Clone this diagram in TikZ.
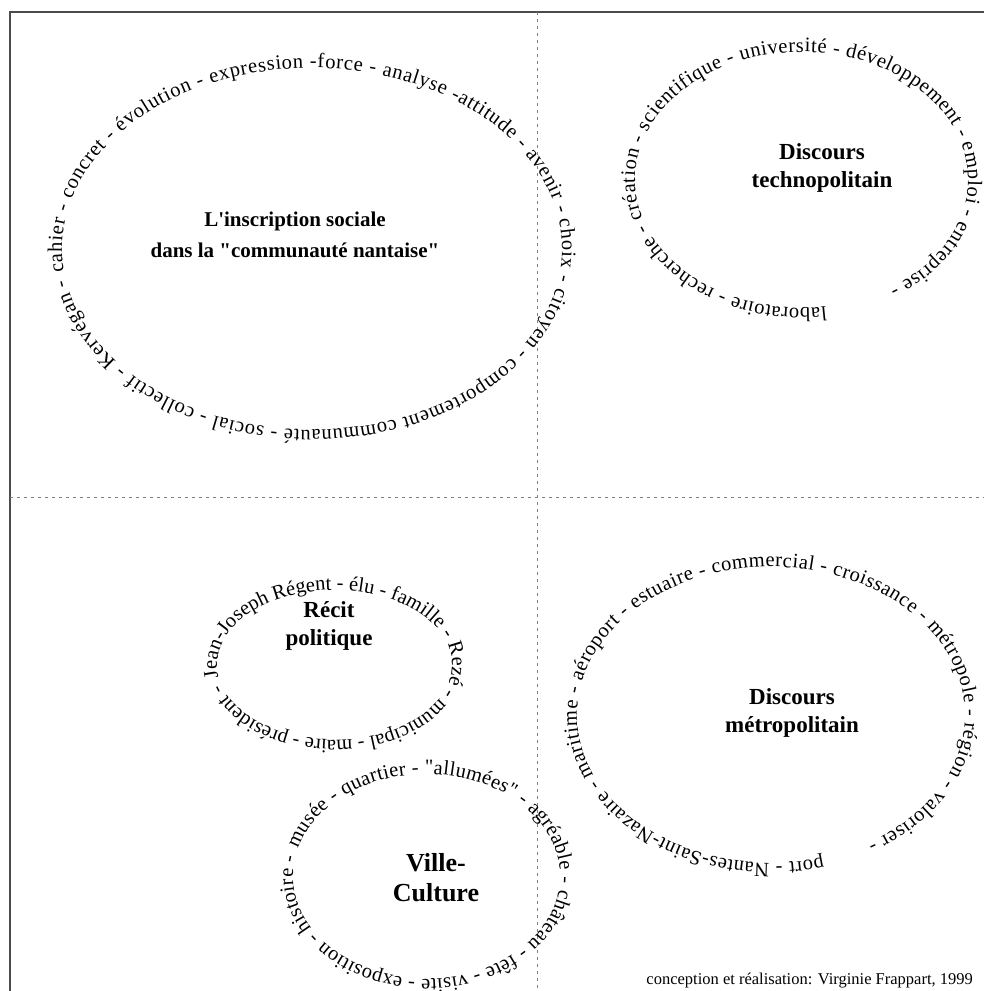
\documentclass[tikz,border=0pt]{standalone}
\usepackage{fontspec}
\setmainfont{Liberation Serif}
\usetikzlibrary{decorations.text}
\newcommand\myringfont{\fontsize{20.5}{20.5}\selectfont}
\tikzset{
  ringtext/.style={decorate, decoration={text along path, text={|\myringfont|#1}, text align={fit to path}}},
  titlebox/.style={font=\bfseries\fontsize{23}{28}\selectfont, align=center, inner sep=0pt},
  frameline/.style={draw=black!70, line width=1.6pt},
  sepline/.style={draw=black!50, line width=0.8pt, dash pattern=on 3pt off 4pt},
}
\begin{document}
\begin{tikzpicture}[x=1pt,y=1pt]
\useasboundingbox (0,0) rectangle (983,991);
\fill[white] (0,0) rectangle (983,991);
% frame and separators
\draw[frameline] (10,-2) -- (10,979) -- (985,979);
\draw[sepline] (537,979) -- (537,-2);
\draw[sepline] (10,494) -- (985,494);
% ring centres
\coordinate (c1) at (312,742);
\coordinate (c2) at (801.5,811);
\coordinate (c3) at (334.5,326);
\coordinate (c4) at (426.5,114.5);
\coordinate (c5) at (771,276);
% rings of words
\path[ringtext={cahier - concret - évolution - expression -force - analyse -attitude - avenir - choix - citoyen - comportement communauté - social - collectif - Kervégan -}]
  (c1) ++(187.3:250pt and 181pt) arc[start angle=187.3, end angle=-170.2, x radius=250pt, y radius=181pt];
\path[ringtext={laboratoire - recherche - création - scientifique - université - développement - emploi - entreprise -}]
  (c2) ++(-81.5:166.5pt and 128pt) arc[start angle=-81.5, end angle=-418, x radius=166.5pt, y radius=128pt];
\path[ringtext={Jean-Joseph Régent - élu - famille - Rezé - municipal - maire - président -}]
  (c3) ++(189.2:117.5pt and 75pt) arc[start angle=189.2, end angle=-164.8, x radius=117.5pt, y radius=75pt];
\path[ringtext={musée - quartier - {\textquotedbl}allumées{\textquotedbl} - agréable - château - fête - visite - exposition - histoire -}]
  (c4) ++(164.4:133.5pt and 102.5pt) arc[start angle=164.4, end angle=-191.2, x radius=133.5pt, y radius=102.5pt];
\path[ringtext={port - Nantes-Saint-Nazaire - maritime - aéroport - estuaire - commercial - croissance - métropole - région - valoriser -}]
  (c5) ++(-74.5:194pt and 148pt) arc[start angle=-74.5, end angle=-420, x radius=194pt, y radius=148pt];
% titles
\node[titlebox, font=\bfseries\fontsize{21}{31}\selectfont] (t1) at (295,756) {L\textquotesingle inscription sociale\\dans la \textquotedbl communauté nantaise\textquotedbl};
\node[titlebox] (t2) at (822,823) {Discours\\technopolitain};
\node[titlebox] (t3) at (329,365) {Récit\\politique};
\node[titlebox, font=\bfseries\fontsize{26}{30}\selectfont] (t4) at (436,113) {Ville-\\Culture};
\node[titlebox] (t5) at (792,278) {Discours\\métropolitain};
% credit
\node[anchor=base east, inner sep=0pt, font=\fontsize{16.5}{17}\selectfont] (credit) at (973,6) {conception et réalisation: Virginie Frappart, 1999};
\end{tikzpicture}
\end{document}
